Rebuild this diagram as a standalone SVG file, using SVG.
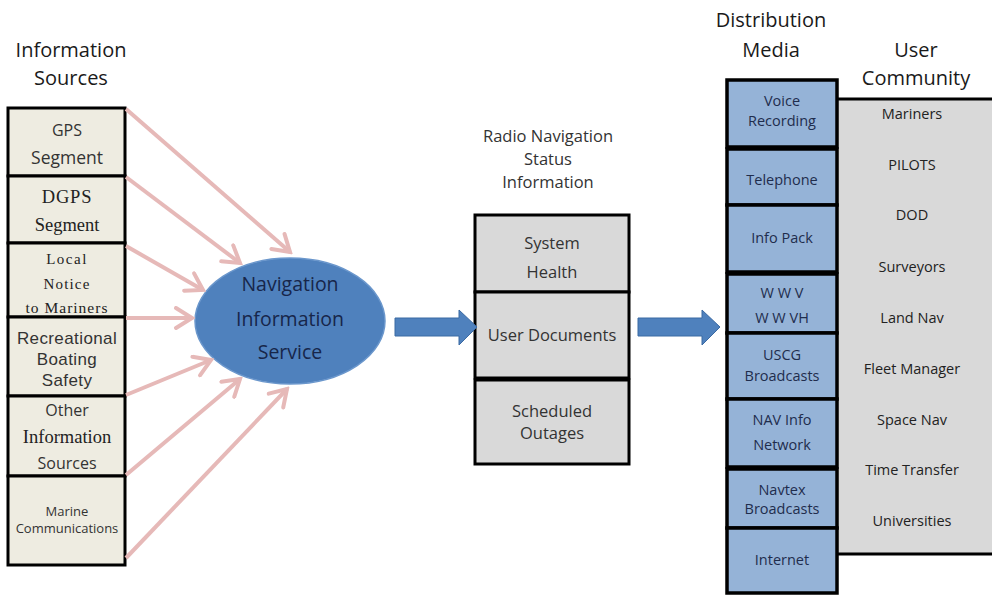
<svg xmlns="http://www.w3.org/2000/svg" width="992" height="595" viewBox="0 0 992 595">
  <style>
    .title { font-family: "Open Sans", "Liberation Sans", sans-serif; font-size: 20px; fill: #1a1a1a; text-anchor: middle; }
    .src { fill: #eeece1; stroke: #000; stroke-width: 3; }
    .sans { font-family: "Open Sans", "Liberation Sans", sans-serif; fill: #333; text-anchor: middle; }
    .tight { font-family: "Liberation Sans", "Arial", sans-serif; fill: #333; text-anchor: middle; }
    .serif { font-family: "Liberation Serif", "DejaVu Serif", serif; fill: #222; text-anchor: middle; }
    .grey { fill: #d9d9d9; stroke: #000; stroke-width: 3; }
    .media { fill: #95b3d7; stroke: #000; stroke-width: 3.5; }
    .mtxt { font-family: "Open Sans", "Liberation Sans", sans-serif; font-size: 14.5px; fill: #1f2d4d; text-anchor: middle; }
    .utxt { font-family: "Open Sans", "Liberation Sans", sans-serif; font-size: 14.5px; fill: #222; text-anchor: middle; }
    .nis { font-family: "Open Sans", "Liberation Sans", sans-serif; font-size: 19.5px; fill: #17264a; text-anchor: middle; }
    .feed { stroke: #e6b9b8; stroke-width: 4; fill: none; marker-end: url(#chev); }
    .block { fill: #4f81bd; stroke: #3b6aa3; stroke-width: 1; }
  </style>
  <defs>
    <marker id="chev" viewBox="0 0 24 24" markerUnits="userSpaceOnUse" markerWidth="24" markerHeight="24" refX="21" refY="12" orient="auto">
      <path d="M5,2 L21,12 L5,22" fill="none" stroke="#e6b9b8" stroke-width="4" stroke-linecap="round"/>
    </marker>
  </defs>

  <rect width="992" height="595" fill="#fff"/>

  <!-- column headings -->
  <g id="headings">
    <text class="title" x="71" y="57">Information</text>
    <text class="title" x="71" y="85">Sources</text>
    <text class="title" x="771" y="27">Distribution</text>
    <text class="title" x="771" y="57">Media</text>
    <text class="title" x="916" y="57">User</text>
    <text class="title" x="916" y="85">Community</text>
    <text class="sans" x="548" y="142" font-size="16.5">Radio Navigation</text>
    <text class="sans" x="548" y="165" font-size="16.5">Status</text>
    <text class="sans" x="548" y="188" font-size="16.5">Information</text>
  </g>

  <!-- information sources -->
  <g id="src-gps">
    <rect class="src" x="8" y="108" width="117" height="68"/>
    <text class="sans" x="67" y="136" font-size="16">GPS</text>
    <text class="sans" x="67" y="164" font-size="17.5">Segment</text>
  </g>
  <g id="src-dgps">
    <rect class="src" x="8" y="176" width="117" height="67"/>
    <text class="serif" x="67" y="203" font-size="18.5" letter-spacing="0.8">DGPS</text>
    <text class="serif" x="67" y="231" font-size="18.5">Segment</text>
  </g>
  <g id="src-lnm">
    <rect class="src" x="8" y="243" width="117" height="74"/>
    <text class="serif" x="67" y="264" font-size="15" letter-spacing="1.5">Local</text>
    <text class="serif" x="67" y="289" font-size="15" letter-spacing="1.2">Notice</text>
    <text class="serif" x="67" y="313" font-size="15.5" letter-spacing="1">to Mariners</text>
  </g>
  <g id="src-rbs">
    <rect class="src" x="8" y="317" width="117" height="79"/>
    <text class="tight" x="67" y="344" font-size="17" letter-spacing="0.4">Recreational</text>
    <text class="tight" x="67" y="365" font-size="17" letter-spacing="0.4">Boating</text>
    <text class="tight" x="67" y="386" font-size="17" letter-spacing="0.4">Safety</text>
  </g>
  <g id="src-other">
    <rect class="src" x="8" y="396" width="117" height="80"/>
    <text class="sans" x="67" y="416" font-size="16">Other</text>
    <text class="serif" x="67" y="443" font-size="18.5">Information</text>
    <text class="sans" x="67" y="469" font-size="16">Sources</text>
  </g>
  <g id="src-marine">
    <rect class="src" x="8" y="476" width="117" height="89"/>
    <text class="sans" x="67" y="516" font-size="13">Marine</text>
    <text class="sans" x="67" y="533" font-size="13">Communications</text>
  </g>

  <!-- central service -->
  <g id="nis">
    <ellipse cx="290" cy="321" rx="95" ry="63" fill="#4f81bd" stroke="#6b97cc" stroke-width="1.5"/>
    <text class="nis" x="290" y="291">Navigation</text>
    <text class="nis" x="290" y="326">Information</text>
    <text class="nis" x="290" y="359">Service</text>
  </g>

  <!-- status information -->
  <g id="status">
    <rect class="grey" x="475" y="215" width="154" height="77"/>
    <rect class="grey" x="475" y="292" width="154" height="86"/>
    <rect class="grey" x="475" y="380" width="154" height="84"/>
    <text class="sans" x="552" y="249" font-size="16.5">System</text>
    <text class="sans" x="552" y="278" font-size="16.5">Health</text>
    <text class="sans" x="552" y="341" font-size="16.5">User Documents</text>
    <text class="sans" x="552" y="417" font-size="16.5">Scheduled</text>
    <text class="sans" x="552" y="439" font-size="16.5">Outages</text>
  </g>

  <!-- user community -->
  <g id="users">
    <rect x="837" y="99" width="160" height="455" fill="#d9d9d9"/>
    <line x1="837" y1="99" x2="992" y2="99" stroke="#000" stroke-width="3"/>
    <line x1="837" y1="554" x2="992" y2="554" stroke="#000" stroke-width="3"/>
    <text class="utxt" x="912" y="119">Mariners</text>
    <text class="utxt" x="912" y="170">PILOTS</text>
    <text class="utxt" x="912" y="220">DOD</text>
    <text class="utxt" x="912" y="272">Surveyors</text>
    <text class="utxt" x="912" y="323">Land Nav</text>
    <text class="utxt" x="912" y="374">Fleet Manager</text>
    <text class="utxt" x="912" y="425">Space Nav</text>
    <text class="utxt" x="912" y="475">Time Transfer</text>
    <text class="utxt" x="912" y="526">Universities</text>
  </g>

  <!-- distribution media -->
  <g id="media-voice">
    <rect class="media" x="727" y="80" width="110" height="67"/>
    <text class="mtxt" x="782" y="106">Voice</text>
    <text class="mtxt" x="782" y="126">Recording</text>
  </g>
  <g id="media-phone">
    <rect class="media" x="727" y="149" width="110" height="56"/>
    <text class="mtxt" x="782" y="185">Telephone</text>
  </g>
  <g id="media-pack">
    <rect class="media" x="727" y="205" width="110" height="67"/>
    <text class="mtxt" x="782" y="243">Info Pack</text>
  </g>
  <g id="media-wwv">
    <rect class="media" x="727" y="274" width="110" height="59"/>
    <text class="mtxt" x="782" y="298">W W V</text>
    <text class="mtxt" x="782" y="323">W W VH</text>
  </g>
  <g id="media-uscg">
    <rect class="media" x="727" y="333" width="110" height="66"/>
    <text class="mtxt" x="782" y="360">USCG</text>
    <text class="mtxt" x="782" y="381">Broadcasts</text>
  </g>
  <g id="media-nav">
    <rect class="media" x="727" y="399" width="110" height="68"/>
    <text class="mtxt" x="782" y="425">NAV Info</text>
    <text class="mtxt" x="782" y="450">Network</text>
  </g>
  <g id="media-navtex">
    <rect class="media" x="727" y="469" width="110" height="59"/>
    <text class="mtxt" x="782" y="495">Navtex</text>
    <text class="mtxt" x="782" y="514">Broadcasts</text>
  </g>
  <g id="media-internet">
    <rect class="media" x="727" y="528" width="110" height="65"/>
    <text class="mtxt" x="782" y="565">Internet</text>
  </g>

  <!-- connectors -->
  <g id="connectors">
    <line class="feed" x1="126" y1="109" x2="290" y2="252"/>
    <line class="feed" x1="126" y1="177" x2="240" y2="263"/>
    <line class="feed" x1="126" y1="246" x2="203" y2="290"/>
    <line class="feed" x1="126" y1="318" x2="192" y2="318"/>
    <line class="feed" x1="126" y1="395" x2="211" y2="360"/>
    <line class="feed" x1="126" y1="475" x2="240" y2="379"/>
    <line class="feed" x1="126" y1="558" x2="287" y2="389"/>
    <path class="block" d="M395,318 H459 V310 L477,327 L459,345 V336 H395 Z"/>
    <path class="block" d="M638,318 H702 V310 L720,327 L702,345 V336 H638 Z"/>
  </g>
</svg>
